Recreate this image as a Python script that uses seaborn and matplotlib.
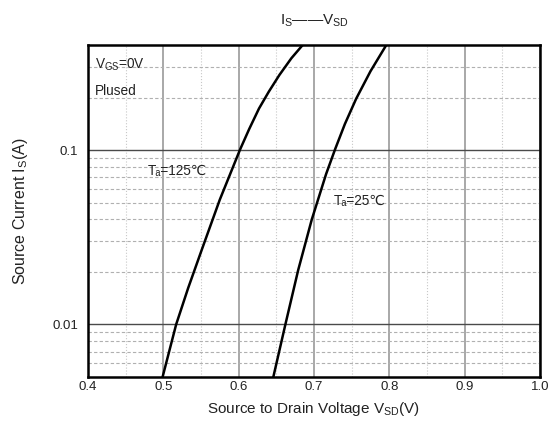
import numpy as np
import pandas as pd
import matplotlib
matplotlib.use("Agg")
import matplotlib.pyplot as plt
import seaborn as sns
from matplotlib.ticker import FixedLocator, NullFormatter

# ---- data ----
vsd_125 = [0.499, 0.517, 0.533, 0.551, 0.575, 0.602, 0.614, 0.627, 0.640, 0.654, 0.670, 0.685]
is_125 = [0.005, 0.010, 0.0162, 0.0268, 0.052, 0.101, 0.132, 0.173, 0.216, 0.269, 0.336, 0.400]
vsd_25 = [0.646, 0.662, 0.679, 0.697, 0.716, 0.728, 0.741, 0.756, 0.775, 0.796]
is_25 = [0.005, 0.010, 0.0205, 0.0399, 0.0727, 0.101, 0.141, 0.197, 0.283, 0.400]
x_ticks = [0.4, 0.5, 0.6, 0.7, 0.8, 0.9, 1.0]
x_ticklabels = ["0.4", "0.5", "0.6", "0.7", "0.8", "0.9", "1.0"]
y_ticks = [0.01, 0.1]
y_ticklabels = ["0.01", "0.1"]

df = pd.concat([
    pd.DataFrame({"V": vsd_125, "I": is_125, "T": "125"}),
    pd.DataFrame({"V": vsd_25, "I": is_25, "T": "25"}),
])

sns.set_style("white")
plt.rcParams["font.family"] = ["Liberation Sans", "DejaVu Sans"]
plt.rcParams["mathtext.fontset"] = "custom"
plt.rcParams["mathtext.rm"] = "Liberation Sans"
plt.rcParams["mathtext.it"] = "Liberation Sans"

TXT = "#222222"

fig = plt.figure(figsize=(5.5, 4.28), dpi=100)
ax = fig.add_axes([88 / 550, 1 - 377 / 428, (540 - 88) / 550, (377 - 45) / 428])

sns.lineplot(data=df, x="V", y="I", hue="T", units="T", estimator=None,
             palette={"125": "black", "25": "black"}, legend=False,
             linewidth=1.8, sort=False, ax=ax)

ax.set_yscale("log")
ax.set_xlim(0.4, 1.0)
ax.set_ylim(0.005, 0.4)

ax.xaxis.set_major_locator(FixedLocator(x_ticks))
ax.set_xticklabels(x_ticklabels)
ax.xaxis.set_minor_locator(FixedLocator([0.45, 0.55, 0.65, 0.75, 0.85, 0.95]))
ax.yaxis.set_major_locator(FixedLocator(y_ticks))
ax.set_yticklabels(y_ticklabels)
ax.yaxis.set_minor_locator(FixedLocator(
    [0.006, 0.007, 0.008, 0.009] + [k * 0.01 for k in range(2, 10)] + [0.2, 0.3]))
ax.yaxis.set_minor_formatter(NullFormatter())

ax.tick_params(axis="both", which="both", length=0, labelsize=9.5, colors=TXT)
ax.tick_params(axis="x", pad=3)
ax.tick_params(axis="y", pad=7)

ax.grid(True, axis="x", which="major", color="#9a9a9a", linewidth=1.2, linestyle="-")
ax.grid(True, axis="x", which="minor", color="#c8c8c8", linewidth=0.8, linestyle=":")
ax.grid(True, axis="y", which="major", color="#4a4a4a", linewidth=1.0, linestyle="-")
ax.grid(True, axis="y", which="minor", color="#b0b0b0", linewidth=0.8, linestyle=(0, (3, 2)))
ax.set_axisbelow(True)

for s in ax.spines.values():
    s.set_visible(True)
    s.set_color("black")
    s.set_linewidth(1.8)

ax.set_xlabel(r"Source to Drain Voltage V$_{\rm SD}$(V)", fontsize=11, color=TXT, labelpad=5)
ax.set_ylabel(r"Source Current I$_{\rm S}$(A)", fontsize=11.5, color=TXT, labelpad=16)
ax.set_title(r"I$_{\rm S}$——V$_{\rm SD}$", fontsize=11, color=TXT, pad=15)

ax.text(0.015, 0.94, r"V$_{\rm GS}$=0V", transform=ax.transAxes, fontsize=9.8, color=TXT, va="center")
ax.text(0.015, 0.86, "Plused", transform=ax.transAxes, fontsize=9.8, color=TXT, va="center")
ax.text(0.133, 0.62, "T\u2090=125\u2103", transform=ax.transAxes, fontsize=9.8, color=TXT, va="center")
ax.text(0.543, 0.53, "T\u2090=25\u2103", transform=ax.transAxes, fontsize=9.8, color=TXT, va="center")

fig.savefig("out.png", dpi=100, facecolor="white")
